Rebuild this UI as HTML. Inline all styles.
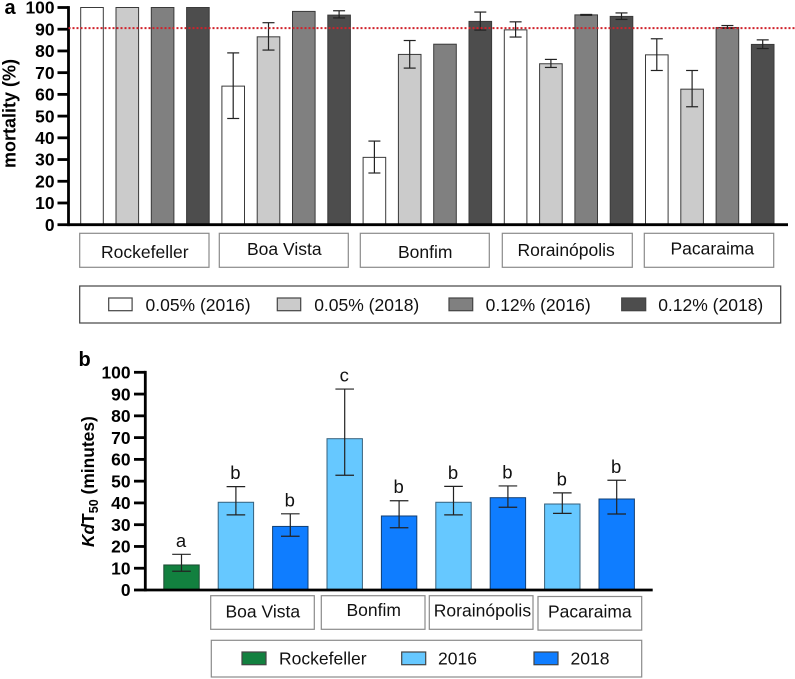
<!DOCTYPE html>
<html lang="en">
<head>
<meta charset="utf-8">
<title>Mortality and KdT50 bar charts</title>
<style>
html,body{margin:0;padding:0;background:#fff;}
svg{display:block;font-family:"Liberation Sans",sans-serif;}
.cat{font-size:17.5px;fill:#111;}
.box{fill:#fff;stroke:#8a8a8a;stroke-width:1.2;}
.legendbox{fill:#fff;stroke:#444;stroke-width:1.2;}
.tick{font-size:17.4px;font-weight:bold;fill:#000;text-anchor:end;}
.title{font-size:18px;font-weight:bold;fill:#000;}
.title-b{font-size:17.4px;font-weight:bold;fill:#000;}
.panel{font-size:20px;font-weight:bold;fill:#000;}
.swatch{stroke:#444;stroke-width:1.2;}
</style>
</head>
<body>
<svg id="fig" width="795" height="679" viewBox="0 0 795 679" xmlns="http://www.w3.org/2000/svg">
  <text class="panel" x="4.5" y="14">a</text>
  <text class="title" transform="translate(15.5,168) rotate(-90)">mortality (%)</text>
  <g id="chartA"></g>

  <g>
    <rect class="box" x="79.7" y="233.3" width="129.3" height="34"/>
    <text class="cat" x="101" y="258">Rockefeller</text>
    <rect class="box" x="219.3" y="233.3" width="129" height="34"/>
    <text class="cat" x="247" y="255">Boa Vista</text>
    <rect class="box" x="360.3" y="233.3" width="129" height="34"/>
    <text class="cat" x="398" y="258">Bonfim</text>
    <rect class="box" x="502.3" y="233.3" width="130" height="34"/>
    <text class="cat" x="517.5" y="256">Rorainópolis</text>
    <rect class="box" x="644.3" y="233.3" width="129.4" height="34"/>
    <text class="cat" x="670.5" y="254.5">Pacaraima</text>
  </g>

  <g>
    <rect class="legendbox" x="79.7" y="286" width="701" height="37"/>
    <rect class="swatch" x="108.7" y="298" width="23.4" height="12.7" fill="#ffffff"/>
    <text class="cat" x="145.5" y="311">0.05% (2016)</text>
    <rect class="swatch" x="277.3" y="298" width="23.4" height="12.7" fill="#cbcbcb"/>
    <text class="cat" x="314.2" y="311">0.05% (2018)</text>
    <rect class="swatch" x="449" y="298" width="23.7" height="12.7" fill="#808080"/>
    <text class="cat" x="485.6" y="311">0.12% (2016)</text>
    <rect class="swatch" x="621.7" y="298" width="24" height="12.7" fill="#4d4d4d"/>
    <text class="cat" x="658.2" y="311">0.12% (2018)</text>
  </g>

  <text class="panel" x="78.5" y="366">b</text>
  <text class="title-b" transform="translate(94,547) rotate(-90)"><tspan font-style="italic">Kd</tspan>T<tspan font-size="12.5" dy="4">50</tspan><tspan dy="-4"> (minutes)</tspan></text>
  <g id="chartB"></g>

  <g>
    <rect class="box" x="210.7" y="595.7" width="103.6" height="33.6"/>
    <text class="cat" x="225.5" y="617.7">Boa Vista</text>
    <rect class="box" x="321.3" y="595.7" width="103.7" height="33.6"/>
    <text class="cat" x="346.5" y="616">Bonfim</text>
    <rect class="box" x="429.3" y="595.7" width="103.7" height="33.6"/>
    <text class="cat" x="433.8" y="616.5">Rorainópolis</text>
    <rect class="box" x="538" y="596.5" width="103.7" height="33.6"/>
    <text class="cat" x="548" y="617.7">Pacaraima</text>
  </g>

  <g>
    <rect class="box" x="211.3" y="640.3" width="430.4" height="36.7"/>
    <rect class="swatch" x="242" y="652" width="24" height="12.7" fill="#12803f"/>
    <text class="cat" x="279" y="664.3">Rockefeller</text>
    <rect class="swatch" x="401.7" y="652" width="24" height="12.7" fill="#66c8ff"/>
    <text class="cat" x="438" y="664.3">2016</text>
    <rect class="swatch" x="534" y="652" width="24" height="12.7" fill="#0f7dff"/>
    <text class="cat" x="570.5" y="664.3">2018</text>
  </g>
</svg>

<script>
// Panel a data
const mortalityCategories = ['Rockefeller', 'Boa Vista', 'Bonfim', 'Rorainopolis', 'Pacaraima'];
const mortalitySeriesNames = ['0.05-2016', '0.05-2018', '0.12-2016', '0.12-2018'];
const mortality005of2016 = [100, 63.8, 31, 89.7, 78.2];
const mortality005of2018 = [100, 86.5, 78.4, 74.1, 62.4];
const mortality012of2016 = [100, 98.2, 83.1, 96.6, 90.8];
const mortality012of2018 = [100, 96.5, 93.6, 95.9, 83];
const mortalityUpper005of2016 = [null, 79.1, 38.5, 93.4, 85.6];
const mortalityUpper005of2018 = [null, 93, 84.8, 76.1, 71];
const mortalityUpper012of2016 = [null, null, null, 96.8, 91.7];
const mortalityUpper012of2018 = [null, 98.5, 97.9, 97.5, 85.1];
const mortalityLower005of2016 = [null, 48.9, 23.8, 86.4, 71];
const mortalityLower005of2018 = [null, 80.4, 72.1, 72.4, 54.3];
const mortalityLower012of2016 = [null, null, null, 96.4, 90.4];
const mortalityLower012of2018 = [null, 95.2, 89.6, 94.5, 81.1];
const mortalityThreshold = [90.5];
const yTickLabels = [0, 10, 20, 30, 40, 50, 60, 70, 80, 90, 100];

// Panel b data
const kdtBarNames = ['rockefeller', 'boa-vista-2016', 'boa-vista-2018', 'bonfim-2016', 'bonfim-2018', 'rorainopolis-2016', 'rorainopolis-2018', 'pacaraima-2016', 'pacaraima-2018'];
const kdtGroups = ['rockefeller', '2016', '2018', '2016', '2018', '2016', '2018', '2016', '2018'];
const kdtValues = [11.5, 40.3, 29.2, 69.5, 34, 40.3, 42.4, 39.5, 41.8];
const kdtUpper = [16.4, 47.5, 35, 92.3, 41, 47.6, 47.8, 44.6, 50.4];
const kdtLower = [8.6, 34.5, 24.7, 52.7, 28.6, 34.5, 38, 35.2, 34.9];
const kdtLetters = ['a', 'b', 'b', 'c', 'b', 'b', 'b', 'b', 'b'];

const NS = 'http://www.w3.org/2000/svg';
function make(parent, tag, attrs, text) {
  const el = document.createElementNS(NS, tag);
  for (const k in attrs) el.setAttribute(k, attrs[k]);
  if (text !== undefined) el.textContent = text;
  parent.appendChild(el);
  return el;
}

// Axis functions
function yA(v) { return 224.7 - v * 2.172; }
function xA(index) { return 92 + 35.3 * index; }
function yB(v) { return 590 - v * 2.177; }
function xB(index) { return 181.5 + 54.4 * index; }

function drawAxes(group, yScale, axisX, tickLeft, xEnd, labelX, prefix) {
  const lw = 2.8;
  yTickLabels.forEach(function (t) {
    const tick = make(group, 'line', { x1: tickLeft, x2: axisX, y1: yScale(t), y2: yScale(t), stroke: '#000', 'stroke-width': lw });
    
    
    const label = make(group, 'text', { class: 'tick', x: labelX, y: yScale(t) + 6.2 }, String(t));
    
    
  });
  const yAxis = make(group, 'line', { x1: axisX, x2: axisX, y1: yScale(100) - lw / 2, y2: yScale(0) + lw / 2, stroke: '#000', 'stroke-width': lw });
  
  
  const xAxis = make(group, 'line', { x1: axisX, x2: xEnd, y1: yScale(0), y2: yScale(0), stroke: '#000', 'stroke-width': lw });
  
  
}

function drawWhisker(group, x, top, bottom, capHalf, name) {
  const w = make(group, 'g', { stroke: '#222', 'stroke-width': 1.2, fill: 'none' });
  
  
  make(w, 'line', { x1: x, x2: x, y1: top, y2: bottom });
  make(w, 'line', { x1: x - capHalf, x2: x + capHalf, y1: top, y2: top });
  make(w, 'line', { x1: x - capHalf, x2: x + capHalf, y1: bottom, y2: bottom });
}

// Panel a
(function () {
  const g = document.getElementById('chartA');
  const series = [
    { v: mortality005of2016, hi: mortalityUpper005of2016, lo: mortalityLower005of2016, fill: '#ffffff' },
    { v: mortality005of2018, hi: mortalityUpper005of2018, lo: mortalityLower005of2018, fill: '#cbcbcb' },
    { v: mortality012of2016, hi: mortalityUpper012of2016, lo: mortalityLower012of2016, fill: '#808080' },
    { v: mortality012of2018, hi: mortalityUpper012of2018, lo: mortalityLower012of2018, fill: '#4d4d4d' }
  ];
  const barW = 22.6;
  mortalityCategories.forEach(function (cat, c) {
    series.forEach(function (s, k) {
      const cx = xA(c * series.length + k);
      const bar = make(g, 'rect', { x: cx - barW / 2, y: yA(s.v[c]), width: barW, height: yA(0) - yA(s.v[c]), fill: s.fill, stroke: '#3a3a3a', 'stroke-width': 1 });
      
      
      if (s.hi[c] !== null) {
        drawWhisker(g, cx, yA(s.hi[c]), yA(s.lo[c]), 6, 'error-bar-' + cat.toLowerCase().replace(' ', '-') + '-' + mortalitySeriesNames[k]);
      }
    });
  });
  drawAxes(g, yA, 68.5, 57.5, 788, 54.5, 'mortality');
  const line = make(g, 'line', { x1: 68.5, x2: 795, y1: yA(mortalityThreshold[0]), y2: yA(mortalityThreshold[0]), stroke: '#d0202a', 'stroke-width': 2, 'stroke-dasharray': '2 2' });
  
  
})();

// Panel b
(function () {
  const g = document.getElementById('chartB');
  const fills = { rockefeller: '#12803f', '2016': '#66c8ff', '2018': '#0f7dff' };
  const strokes = { rockefeller: '#1c4a33', '2016': '#35607c', '2018': '#123f73' };
  const barW = 35.4;
  kdtValues.forEach(function (v, i) {
    const cx = xB(i);
    const bar = make(g, 'rect', { x: cx - barW / 2, y: yB(v), width: barW, height: yB(0) - yB(v), fill: fills[kdtGroups[i]], stroke: strokes[kdtGroups[i]], 'stroke-width': 1 });
    
    
    drawWhisker(g, cx, yB(kdtUpper[i]), yB(kdtLower[i]), 9.3, 'error-bar-' + kdtBarNames[i]);
    const letter = make(g, 'text', { x: cx - 0.5, y: yB(kdtUpper[i]) - 7.5, 'text-anchor': 'middle', 'font-size': 18.5, fill: '#111' }, kdtLetters[i]);
    
    
  });
  drawAxes(g, yB, 145.3, 134, 652.7, 130.5, 'kdt50');
})();
</script>
</body>
</html>
